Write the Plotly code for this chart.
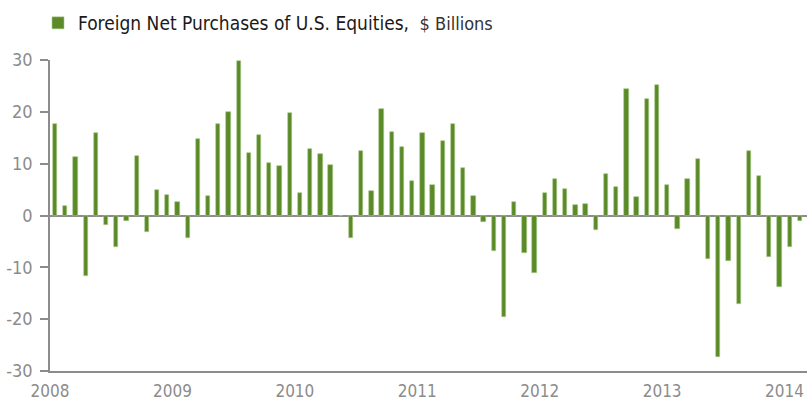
import plotly.graph_objects as go

# Monthly values Jan 2008 - Feb 2014, $ billions
values = [
    17.7, 1.9, 11.3, -11.7, 15.9, -1.9, -6.0, -1.1, 11.4, -3.1, 4.9, 4.0,   # 2008
    2.6, -4.3, 14.7, 3.8, 17.7, 19.9, 29.9, 12.1, 15.6, 10.2, 9.6, 19.8,    # 2009
    4.4, 12.9, 11.9, 9.7, -0.1, -4.3, 12.5, 4.7, 20.6, 16.1, 13.2, 6.7,     # 2010
    15.9, 5.9, 14.4, 17.7, 9.1, 3.7, -1.3, -6.8, -19.5, 2.6, -7.3, -11.0,   # 2011
    4.3, 7.1, 5.2, 2.1, 2.3, -2.8, 8.0, 5.5, 24.5, 3.5, 22.4, 25.1,         # 2012
    5.9, -2.6, 7.1, 10.9, -8.4, -27.3, -8.7, -17.0, 12.5, 7.7, -8.0, -13.8, # 2013
    -6.0, -1.0,                                                              # 2014
]
months = [i + 0.5 for i in range(len(values))]
year_ticks = [0, 12, 24, 36, 48, 60, 72]
year_labels = ["2008", "2009", "2010", "2011", "2012", "2013", "2014"]
y_ticks = [-30, -20, -10, 0, 10, 20, 30]
y_labels = ["-30", "-20", "-10", "0", "10", "20", "30"]

GREEN = "#5b8a28"
AXIS = "#8c8c8c"
FONT = "DejaVu Sans Condensed, sans-serif"

fig = go.Figure()
fig.add_trace(go.Bar(
    x=months, y=values, width=0.42,
    marker=dict(color=GREEN, line=dict(color="#a9c98a", width=0.6)),
    name="Foreign Net Purchases of U.S. Equities, <span style='color:#333;font-size:18px'> $ Billions</span>",
    showlegend=True,
))

fig.update_layout(
    width=807, height=402,
    margin=dict(l=50, r=0, t=60, b=31, autoexpand=False),
    paper_bgcolor="white", plot_bgcolor="white",
    font=dict(family=FONT, color=AXIS, size=16),
    bargap=0,
    showlegend=True,
    legend=dict(x=38 / 807, y=1 - 23 / 402, xref="container", yref="container",
                xanchor="left", yanchor="middle",
                orientation="h", font=dict(size=19, color="#1a1a1a", family=FONT),
                itemwidth=30, bgcolor="rgba(0,0,0,0)"),
    xaxis=dict(range=[0, 74.2], tickvals=year_ticks, ticktext=year_labels,
               showgrid=False, zeroline=False, showline=True, linecolor=AXIS, linewidth=1.5,
               ticks="", tickfont=dict(size=17, color=AXIS), ticklabelstandoff=4),
    yaxis=dict(range=[-30, 30], tickvals=y_ticks, ticktext=y_labels, showgrid=False,
               zeroline=True, zerolinecolor=AXIS, zerolinewidth=1.5,
               showline=True, linecolor=AXIS, linewidth=1.5,
               ticks="outside", ticklen=8, tickcolor=AXIS, tickwidth=1.5,
               tickfont=dict(size=18, color=AXIS), ticklabelstandoff=4),
)

fig.write_html("out.html", config={"displayModeBar": False},
               post_script="document.body.style.margin='0';")
